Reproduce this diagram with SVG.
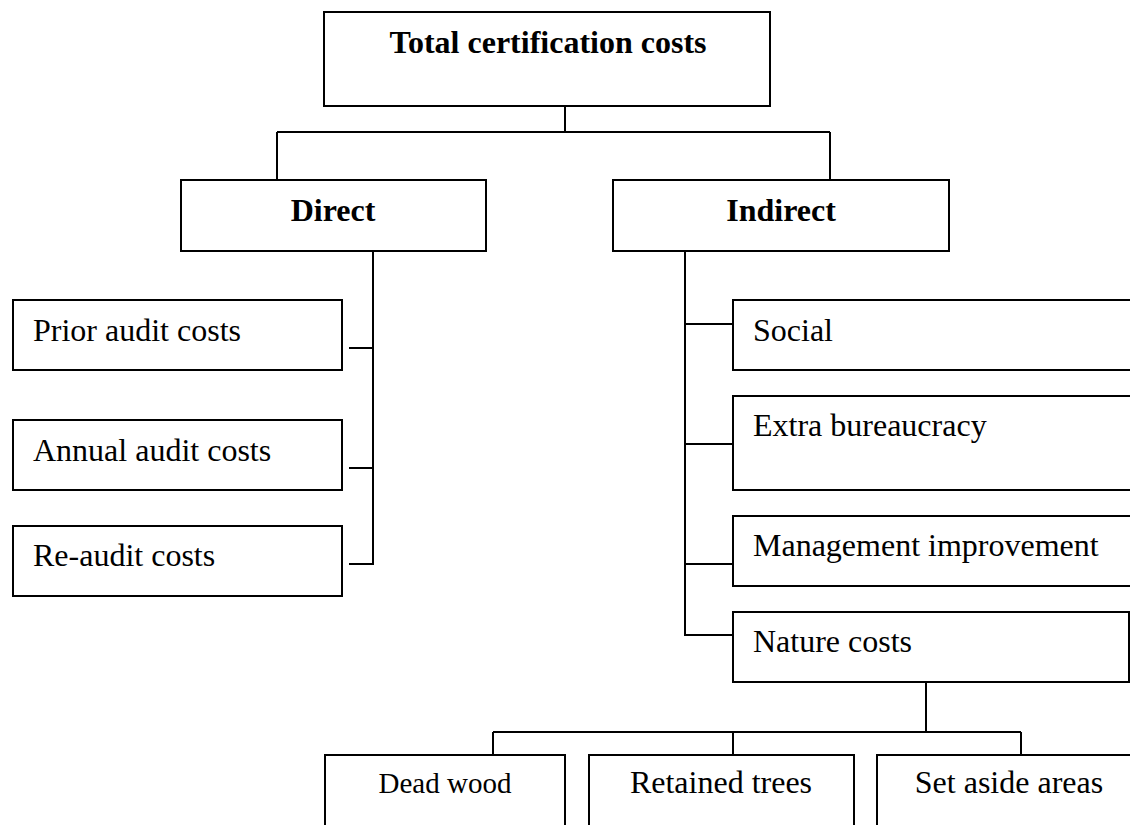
<svg xmlns="http://www.w3.org/2000/svg" width="1130" height="825" viewBox="0 0 1130 825">
<style>
.box{fill:#fff;stroke:#000;stroke-width:2}
.ln{fill:none;stroke:#000;stroke-width:2}
.t{font-family:"Liberation Serif","Times New Roman",serif;font-size:32px;fill:#000}
.b{font-weight:bold}
.m{text-anchor:middle}
</style>
<rect width="1130" height="825" fill="#fff"/>
<g id="connectors">
<path class="ln" d="M565,106 V132 M277,132 H830 M277,132 V180 M830,132 V180"/>
<path class="ln" d="M373,251 V564 H349 M349,348 H373 M349,468 H373"/>
<path class="ln" d="M685,251 V635 H733 M685,324 H733 M685,444 H733 M685,564 H733"/>
<path class="ln" d="M926,682 V732 M493,732 H1021 M493,732 V755 M733,732 V755 M1021,732 V755"/>
</g>
<g id="total"><rect class="box" x="324" y="12" width="446" height="94"/><text class="t b m" x="548" y="53">Total certification costs</text></g>
<g id="direct"><rect class="box" x="181" y="180" width="305" height="71"/><text class="t b m" x="333" y="221">Direct</text></g>
<g id="indirect"><rect class="box" x="613" y="180" width="336" height="71"/><text class="t b m" x="781" y="221">Indirect</text></g>
<g id="prior"><rect class="box" x="13" y="300" width="329" height="70"/><text class="t" x="33" y="341">Prior audit costs</text></g>
<g id="annual"><rect class="box" x="13" y="420" width="329" height="70"/><text class="t" x="33" y="461">Annual audit costs</text></g>
<g id="reaudit"><rect class="box" x="13" y="526" width="329" height="70"/><text class="t" x="33" y="566">Re-audit costs</text></g>
<g id="social"><rect class="box" x="733" y="300" width="420" height="70"/><text class="t" x="753" y="341">Social</text></g>
<g id="bureaucracy"><rect class="box" x="733" y="396" width="420" height="94"/><text class="t" x="753" y="436">Extra bureaucracy</text></g>
<g id="management"><rect class="box" x="733" y="516" width="420" height="70"/><text class="t" x="753" y="556">Management improvement</text></g>
<g id="nature"><rect class="box" x="733" y="612" width="396" height="70"/><text class="t" x="753" y="652">Nature costs</text></g>
<g id="deadwood"><rect class="box" x="325" y="755" width="240" height="100"/><text class="t m" x="445" y="793" style="font-size:29px">Dead wood</text></g>
<g id="retained"><rect class="box" x="589" y="755" width="265" height="100"/><text class="t m" x="721" y="793">Retained trees</text></g>
<g id="setaside"><rect class="box" x="877" y="755" width="270" height="100"/><text class="t m" x="1009" y="793">Set aside areas</text></g>
</svg>
